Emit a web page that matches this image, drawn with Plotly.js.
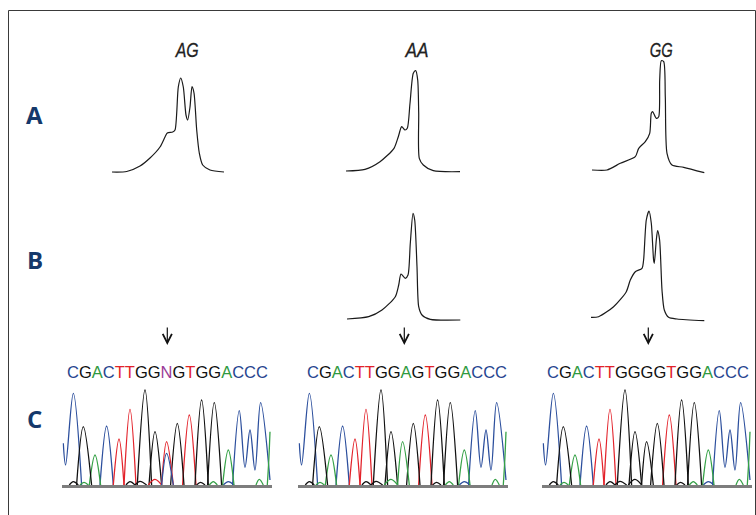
<!DOCTYPE html>
<html>
<head>
<meta charset="utf-8">
<script src="https://cdn.plot.ly/plotly-3.0.1.min.js"></script>
<style>html,body{margin:0;padding:0;background:#fff;}#chart{width:756px;height:515px;}</style>
</head>
<body>
<div id="chart"></div>
<script>
// ---------- DATA ----------
const genotypes = ['AG', 'AA', 'GG'];
const rowLabels = ['A', 'B', 'C'];
const sequences = ['CGACTTGGNGTGGACCC', 'CGACTTGGAGTGGACCC', 'CGACTTGGGGTGGACCC'];

// Melting curves (offset in temperature units, fluorescence derivative height)
const meltA_AG_x = [0,14.7,28,38,48,53,55.3,60.7,63,66.3,68.7,71.3,74,75.7,78,80,82,84.7,87.3,90.7,98,112];
const meltA_AG_y = [0,0.5,6,14,25,35,39,40,42,85,94,85,57,52,65,85.3,79,42,19,7,2,0];
const meltA_AA_x = [0,19,34,48,52.3,55.7,59,61.3,64,67.3,69.7,71.7,72.7,73.3,77.3,87.3,114];
const meltA_AA_y = [0,1.7,9.3,22.7,34.3,44.3,41,42.7,67.7,97.7,100.3,91,58,12.7,6,0.3,-0.7];
const meltA_GG_x = [0,15,28.3,43.3,46.7,53.3,57.7,59.3,60.7,64.3,66.7,67.7,69.3,71.7,73.3,75,80,91.7,112.3];
const meltA_GG_y = [0,0,6.7,13.3,21.7,28.3,36.7,56.7,58.3,51.7,53.3,90,109.3,108.3,73.3,16.7,5,2.7,-2.7];
const meltB_AA_x = [0,21.7,35,48.3,51.7,54,58.3,61,63.3,66,67.7,70,71.7,75,83.3,113.3];
const meltB_AA_y = [0,2.3,9,22.3,34,45,40.7,44,75.7,105.7,99,52.3,12.3,4,-0.3,-1];
const meltB_GG_x = [0,7.6,22.6,35.3,39.3,44.3,51,52.6,55.3,58,60.3,62.6,63.3,65.3,66.6,68.6,71,73.3,77.6,86,113.3];
const meltB_GG_y = [0.7,1.3,11.3,26.3,38,46.3,49.7,58,98,107,94.7,58,54.7,78,87.3,78,28,8,0.7,-1,-2.7];

// Chromatogram peaks shared by all genotypes (scan position, signal)
const chromC_x = [1,3.3,11,19.3,null,37.7,44.3,51,null,161,166,171.7,null,170.3,177,182.7,187.7,192.7,198.3,207.7];
const chromC_y = [41.7,20,91.7,0,null,0,59,0,null,0,3.3,0,null,0,74.3,17.7,55,15,82.3,5];
const chromG_x = [7,11,16,null,14.3,21,29.3,null,63.7,67.7,72.7,null,72.7,77.7,84.3,null,75,82.7,89.3,null,86.7,92.7,99.3,null,108.3,115,121.7,null,134.3,138.3,142.7,null,132.7,139.3,146,null,145.3,152,159.3];
const chromG_y = [0,3.3,0,null,0,58.3,0,null,0,3.3,0,null,0,3.7,0,null,0,95,0,null,0,53.3,0,null,0,61.7,0,null,0,2.7,0,null,0,85,0,null,0,82.3,0];
const chromA_x = [17.7,21.7,26,null,27,32.7,38.3,null,147,151,155,null,160.3,166,171.7,null,193.7,197,201,null,205,206.5,207.7];
const chromA_y = [0,2.7,0,null,0,30,0,null,0,3.3,0,null,0,35,0,null,0,5.7,0,null,0,25,53.3];
const chromT_x = [51,56.7,61.7,null,61.7,67.7,73.7,null,120.3,127,133.7];
const chromT_y = [0,46,0,null,0,75.7,0,null,0,70,0];

// SNP site peaks per genotype
const siteX = [99.3, 104.3, 111];
const siteMajorBase = ['T', 'A', 'G'];
const siteMajorH = [43.3, 43.3, 43.3];
const siteMinorBase = ['C', null, null];
const siteMinorH = [31.7, 0, 0];
const siteSmallX = [86, 92.7, 99.3];
const siteSmallH = [5.7, 5.7, 5.7];

// ---------- STYLE ----------
const baseColor = {A:'#35a146', C:'#2c4f9d', G:'#111111', T:'#e3232b', N:'#9b3b97'};
const textBaseColor = {A:'#2f9a40', C:'#27458f', G:'#111111', T:'#e2232a', N:'#9b3b97'};
const W = 756, H = 515;

const traces = [];
const layout = {
  width: W, height: H,
  margin: {l:0, r:0, t:0, b:0},
  paper_bgcolor: '#ffffff', plot_bgcolor: 'rgba(0,0,0,0)',
  showlegend: false, annotations: [], shapes: []
};
let axN = 0;
function addAxes(x0, x1, xr, ytop, ybot, yr, xExtra) {
  axN++;
  const s = axN === 1 ? '' : String(axN);
  layout['xaxis' + s] = Object.assign({domain:[x0/W, x1/W], range:xr, visible:false, fixedrange:true, anchor:'y' + s}, xExtra || {});
  layout['yaxis' + s] = {domain:[1 - ybot/H, 1 - ytop/H], range:yr, visible:false, fixedrange:true, anchor:'x' + s};
  return {xaxis:'x' + s, yaxis:'y' + s};
}

// Melt panels
const meltPanels = [
  {x: meltA_AG_x, y: meltA_AG_y, left: 112, base: 172},
  {x: meltA_AA_x, y: meltA_AA_y, left: 346, base: 171},
  {x: meltA_GG_x, y: meltA_GG_y, left: 592, base: 170},
  {x: meltB_AA_x, y: meltB_AA_y, left: 347, base: 319},
  {x: meltB_GG_x, y: meltB_GG_y, left: 591, base: 318}
];
meltPanels.forEach(p => {
  const ax = addAxes(p.left - 2, p.left + 118, [-2, 118], p.base - 115, p.base + 5, [-5, 115]);
  traces.push(Object.assign({
    type:'scatter', mode:'lines', x:p.x, y:p.y, hoverinfo:'skip',
    line:{color:'#1a1a1a', width:1.2, shape:'spline', smoothing:0.7}
  }, ax));
});

// Chromatograms
const chromLefts = [62.3, 298.3, 542.3];
const chromBase = 485;
genotypes.forEach((g, i) => {
  const ax = addAxes(chromLefts[i], chromLefts[i] + 210, [0, 210], chromBase - 100, chromBase, [0, 100],
    {visible:true, showticklabels:false, showgrid:false, zeroline:false, ticks:'', showline:true, linecolor:'#7d7d7d', linewidth:2.5});
  const chans = [['C', chromC_x, chromC_y], ['A', chromA_x, chromA_y], ['T', chromT_x, chromT_y], ['G', chromG_x, chromG_y]];
  const extra = [];
  extra.push([siteMajorBase[i], siteSmallX, [0, siteSmallH[i], 0]]);
  extra.push([siteMajorBase[i], siteX, [0, siteMajorH[i], 0]]);
  if (siteMinorBase[i]) extra.push([siteMinorBase[i], siteX, [0, siteMinorH[i], 0]]);
  chans.concat(extra).forEach(c => {
    traces.push(Object.assign({
      type:'scatter', mode:'lines', x:c[1], y:c[2], hoverinfo:'skip', connectgaps:false,
      line:{color:baseColor[c[0]], width:1.3, shape:'spline', smoothing:1}
    }, ax));
  });
});

// Text
const labelY = [114, 259, 418];
rowLabels.forEach((t, i) => layout.annotations.push({
  text:'<b>' + t + '</b>', xref:'paper', yref:'paper', x:34.5/W, y:1 - labelY[i]/H, xanchor:'center', yanchor:'middle', showarrow:false,
  font:{family:'Open Sans, Noto Sans, sans-serif', size:24, color:'#15386a', weight:800}
}));
const titleX = [186, 416, 661.5];
genotypes.forEach((g, i) => layout.annotations.push({
  text:g, xref:'paper', yref:'paper', x:titleX[i]/W, y:1 - 50/H, xanchor:'center', yanchor:'middle', showarrow:false,
  font:{family:'Liberation Sans, Arial, sans-serif', size:21, color:'#222', style:'italic'}
}));
const arrowX = [167.3, 404.3, 648.3];
const seqX = [167.5, 406.7, 647.5];
sequences.forEach((s, i) => {
  layout.annotations.push({
    text:'', xref:'paper', yref:'paper', x:arrowX[i]/W, y:1 - 345/H, showarrow:true,
    ax:0, ay:-19, arrowhead:5, arrowsize:1.5, arrowwidth:1.2, arrowcolor:'#111', standoff:0
  });
  const html = s.split('').map(ch => '<span style="color:' + textBaseColor[ch] + '">' + ch + '</span>').join('');
  layout.annotations.push({
    text:html, xref:'paper', yref:'paper', x:seqX[i]/W, y:1 - 372/H, xanchor:'center', yanchor:'middle', showarrow:false,
    font:{family:'Liberation Sans, Arial, sans-serif', size:16.5, color:'#111'}
  });
});

// Frame
layout.shapes.push({type:'rect', xref:'paper', yref:'paper', x0:8.5/W, x1:755.5/W, y0:-0.01, y1:1 - 10.5/H,
  line:{color:'#3a3a3a', width:1}, fillcolor:'rgba(0,0,0,0)', layer:'below'});

Plotly.newPlot('chart', traces, layout, {staticPlot:true, displayModeBar:false}).then(() => {
  // condensed look for the genotype titles
  document.querySelectorAll('text.annotation-text').forEach(t => {
    if (genotypes.indexOf(t.textContent) >= 0) {
      t.setAttribute('textLength', '23');
      t.setAttribute('lengthAdjust', 'spacingAndGlyphs');
      t.style.stroke = '#222';
      t.style.strokeWidth = '0.3px';
    }
  });
});
</script>
</body>
</html>
